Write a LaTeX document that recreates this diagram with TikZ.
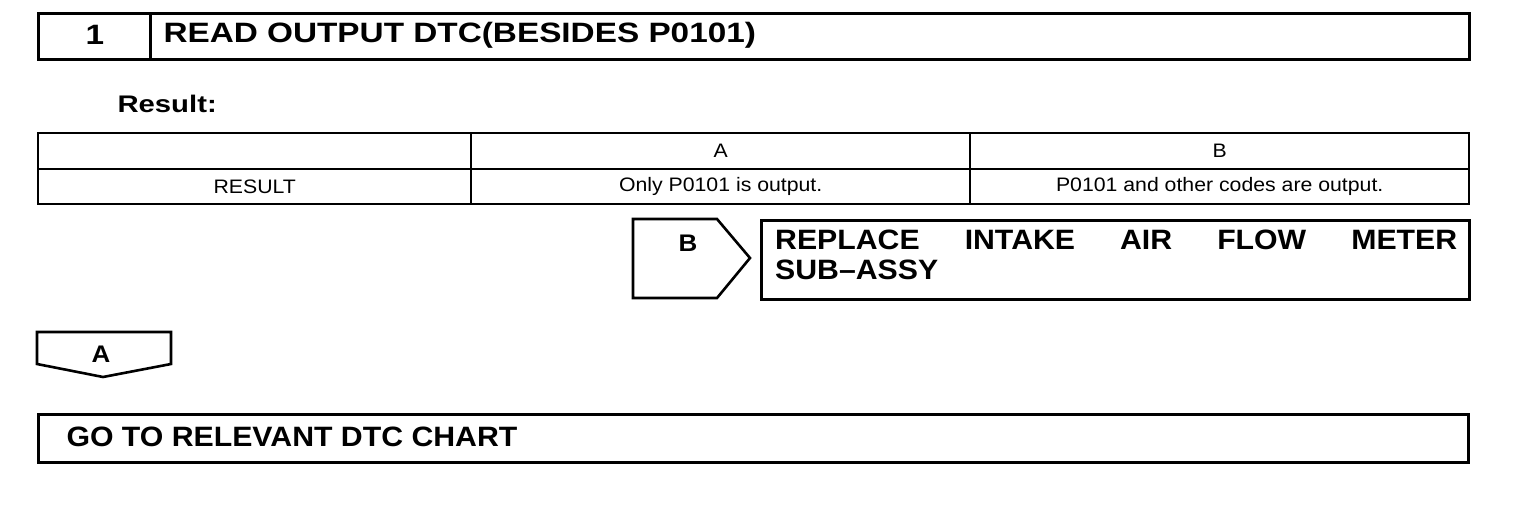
\documentclass[tikz,border=0pt]{standalone}
\usepackage{fontspec}
\setmainfont{Liberation Sans}
\newfontfamily\wideA{Liberation Sans}[FakeStretch=1.19]
\newfontfamily\wideB{Liberation Sans}[FakeStretch=1.08]
\newfontfamily\wideC{Liberation Sans}[FakeStretch=1.22]
\newfontfamily\wideD{Liberation Sans}[FakeStretch=1.09]
\begin{document}
\begin{tikzpicture}[x=1pt,y=-1pt,
  frame/.style={draw=black,line width=2.8pt,inner sep=0pt,anchor=north west},
  cell/.style={draw=black,line width=2.4pt,inner sep=0pt,anchor=north west,font=\wideD\fontsize{19.5}{22}\selectfont},
  titletext/.style={font=\wideA\bfseries\fontsize{28}{30}\selectfont},
  head/.style={font=\wideB\bfseries\fontsize{28}{30}\selectfont},
  tag/.style={font=\wideB\bfseries\fontsize{24}{26}\selectfont},
  pentline/.style={draw=black,line width=2.6pt,line join=miter}]
\useasboundingbox (0,0) rectangle (1520,512);
% title bar
\node[frame,minimum width=112,minimum height=46] (numbox) at (37,12) {};
\node[frame,minimum width=1319,minimum height=46] (titlebox) at (149,12) {};
\node[titletext] (num) at (95,35) {1};
\node[titletext,anchor=west] (title) at (160,35) {READ OUTPUT DTC(BESIDES P0101)};
% result label
\node[font=\wideC\bfseries\fontsize{24}{26}\selectfont,anchor=west] (result) at (114,104) {Result:};
% table
\node[cell,minimum width=433,minimum height=36] (c11) at (37,132) {};
\node[cell,minimum width=499,minimum height=36] (c12) at (470,132) {A};
\node[cell,minimum width=499,minimum height=36] (c13) at (969,132) {B};
\node[cell,minimum width=433,minimum height=35] (c21) at (37,168) {RESULT};
\node[cell,minimum width=499,minimum height=35] (c22) at (470,168) {Only P0101 is output.};
\node[cell,minimum width=499,minimum height=35] (c23) at (969,168) {P0101 and other codes are output.};
% B branch
\draw[pentline] (633,219) -- (717,219) -- (750,258) -- (717,298) -- (633,298) -- cycle;
\node[tag] (btag) at (688,243) {B};
\node[frame,minimum width=708,minimum height=79] (replace) at (760,219) {};
\node[head,anchor=north west,text width=682,align=left,inner sep=0pt] (replacetext) at (775,230)
  {REPLACE\hfill INTAKE\hfill AIR\hfill FLOW\hfill METER\\SUB–ASSY};
% A branch
\draw[pentline] (37,332) -- (171,332) -- (171,364) -- (103,377) -- (37,364) -- cycle;
\node[tag] (atag) at (101,354) {A};
\node[frame,minimum width=1430,minimum height=48] (goto) at (37,413) {};
\node[head,anchor=west] (gototext) at (63,437) {GO TO RELEVANT DTC CHART};
\end{tikzpicture}
\end{document}
